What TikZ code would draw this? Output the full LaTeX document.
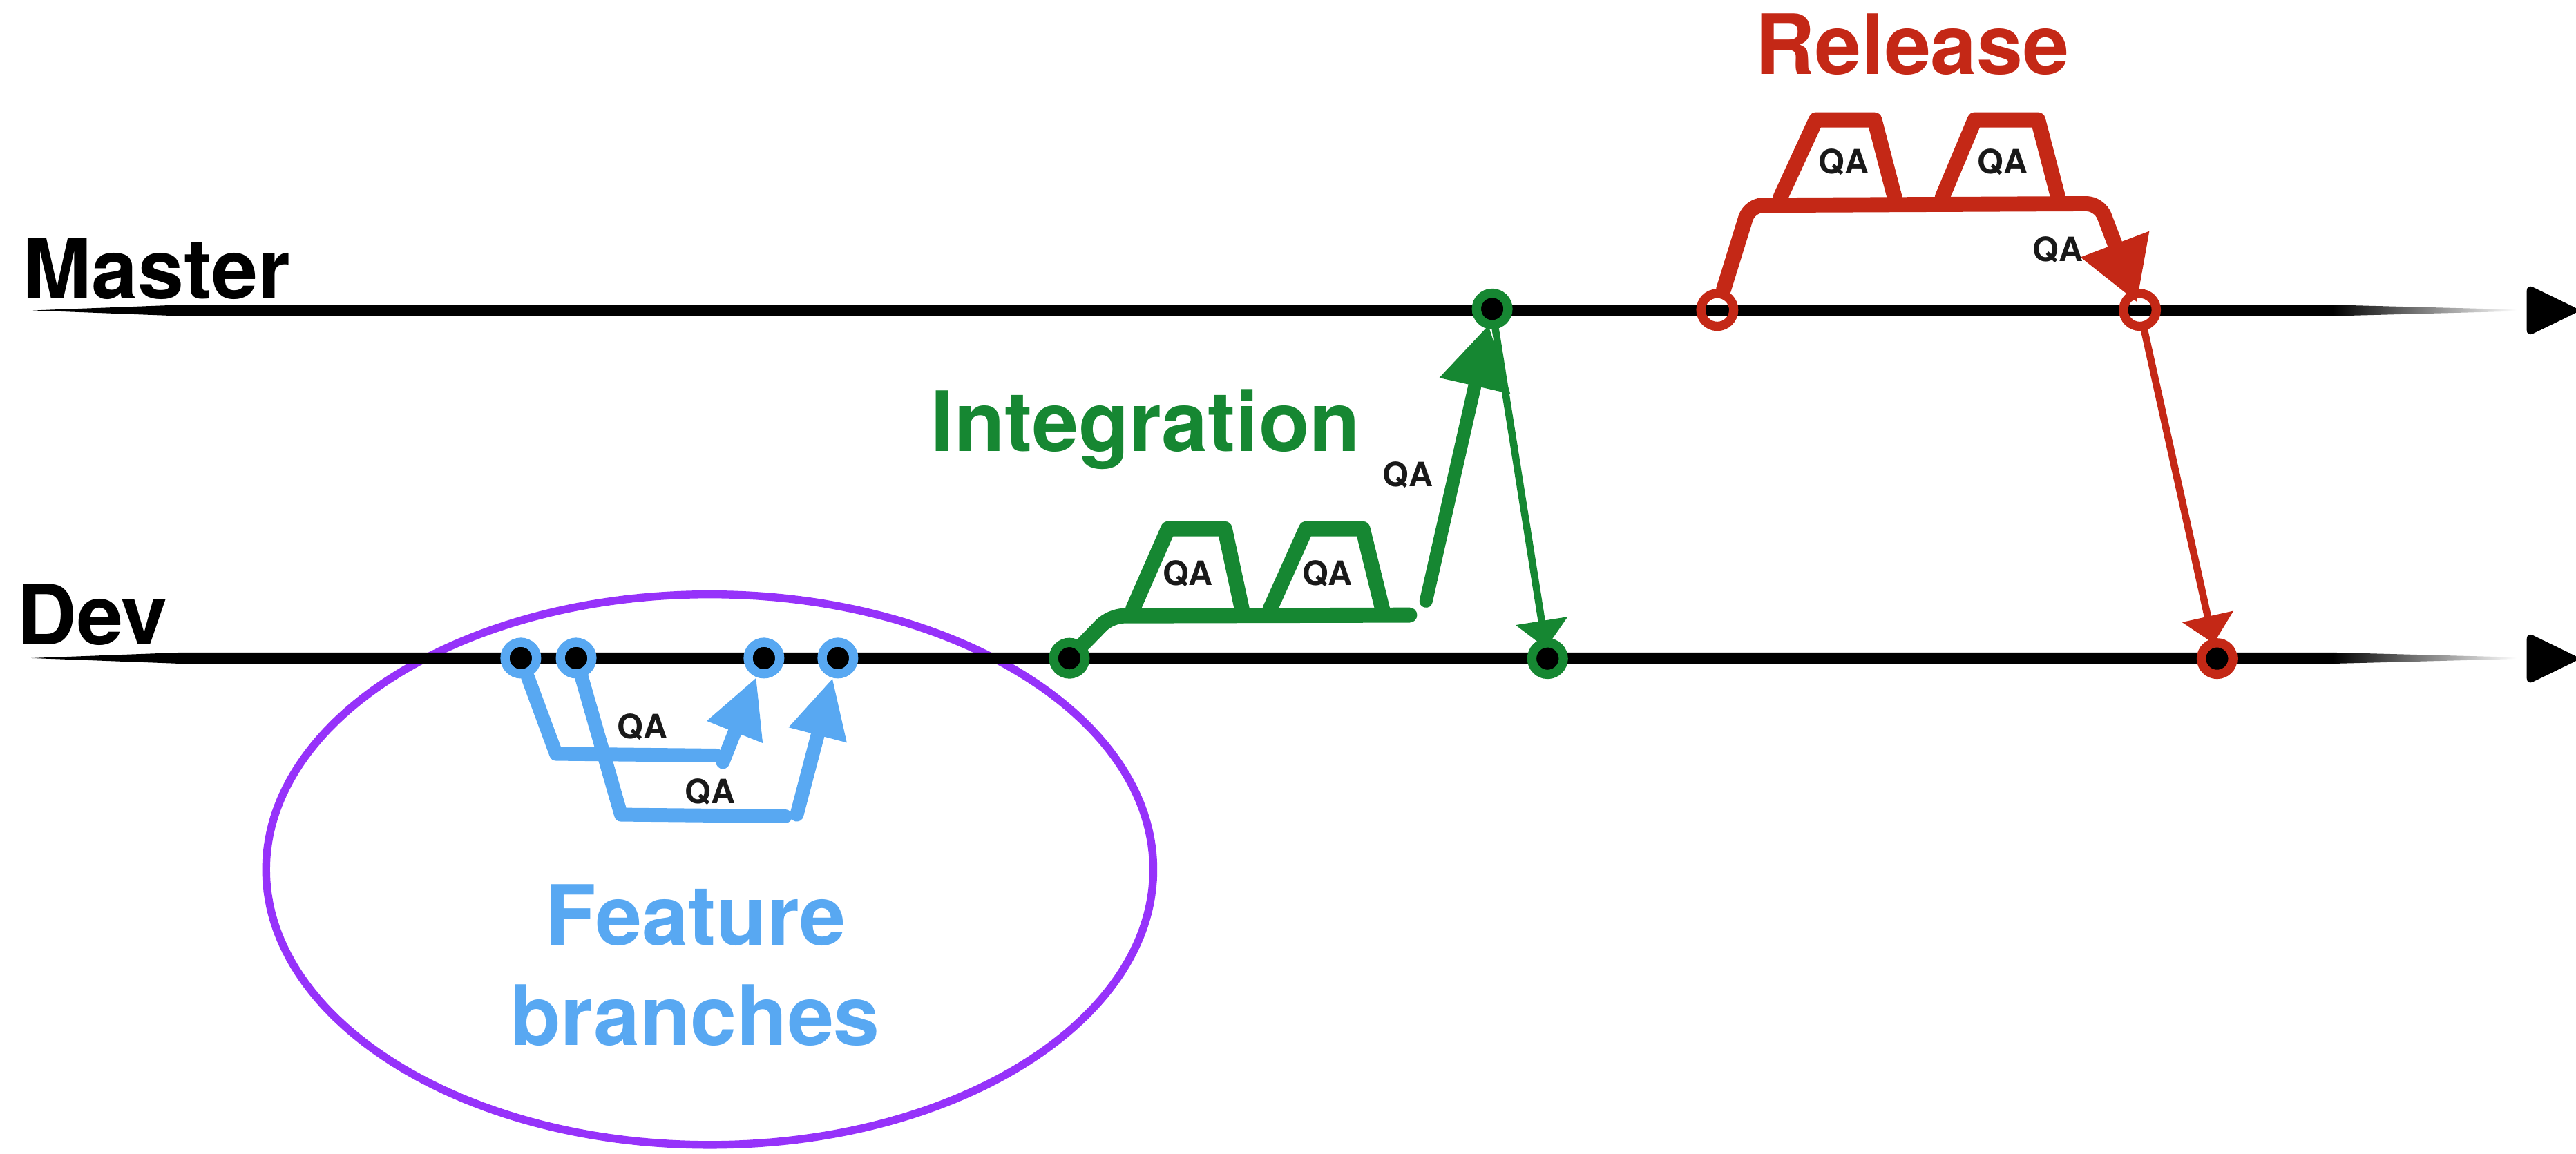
\documentclass[tikz,border=0pt]{standalone}
\usepackage{fontspec}
\setmainfont{TeX Gyre Heros}
\usetikzlibrary{arrows.meta}
\definecolor{blueF}{RGB}{88,168,242}
\definecolor{greenI}{RGB}{22,135,50}
\definecolor{redR}{RGB}{196,40,22}
\definecolor{purpleE}{RGB}{150,50,250}
\definecolor{qaText}{RGB}{25,25,25}
\begin{document}
\begin{tikzpicture}[x=0.25mm,y=-0.25mm,
  bigtext/.style={font=\fontsize{36}{43}\selectfont\bfseries, inner sep=0, anchor=base},
  qa/.style={font=\fontsize{14.5}{17}\selectfont\bfseries, text=qaText, inner sep=0},
  commit/.style={circle, draw=#1, line width=1.4mm, minimum size=4.8mm, inner sep=0, fill=black},
  commito/.style={circle, draw=#1, line width=1.4mm, minimum size=5mm, inner sep=0},
  fatline/.style={draw=#1, line width=2.3mm, line cap=round, line join=round},
  thinline/.style={draw=#1, line width=1.1mm, line cap=round},
  bluehead/.style={-{Triangle[length=9mm, width=8.5mm]}},
  bighead/.style={-{Triangle[length=9.5mm, width=10.5mm]}},
  smallhead/.style={-{Triangle[length=4.2mm, width=7.75mm]}},
]
\useasboundingbox (0,0) rectangle (1568,702.6);

% feature-branch ellipse
\draw[purpleE, line width=1.2mm] (432,529.5) ellipse [x radius=67.5mm, y radius=41.9mm];

% timelines
\fill[black] (20,189) -- (110,185.6) -- (1420,185.6) -- (1420,192.4) -- (110,192.4) -- cycle;
\shade[left color=black, right color=white] (1420,185.6) -- (1532,188.5) -- (1532,189.5) -- (1420,192.4) -- cycle;
\fill[black, rounded corners=1mm] (1538,173) -- (1571,189) -- (1538,205) -- cycle;
\fill[black] (19,400.7) -- (110,397.3) -- (1420,397.3) -- (1420,404.1) -- (110,404.1) -- cycle;
\shade[left color=black, right color=white] (1420,397.3) -- (1532,400.2) -- (1532,401.2) -- (1420,404.1) -- cycle;
\fill[black, rounded corners=1mm] (1538,385) -- (1571,401) -- (1538,417) -- cycle;

% labels
\node[bigtext, anchor=base west] (mlab) at (13.4,181.7) {Master};
\node[bigtext, anchor=base west] (dlab) at (9.9,392.5) {Dev};
\node[bigtext, text=greenI] (intlab) at (697.4,275) {Integration};
\node[bigtext, text=redR] (rellab) at (1164,45) {Release};
\node[bigtext, text=blueF] (fblab1) at (423.5,575.3) {Feature};
\node[bigtext, text=blueF] (fblab2) at (423,636.5) {branches};

% commits
\node[commit=blueF] (f1) at (317,400.7) {};
\node[commit=blueF] (f2) at (350.7,400.7) {};
\node[commit=blueF] (f3) at (465,400.7) {};
\node[commit=blueF] (f4) at (510,400.7) {};
\node[commit=greenI] (g1) at (650.9,400.8) {};
\node[commit=greenI] (g2) at (908.3,188.1) {};
\node[commit=greenI] (g3) at (942,401) {};
\node[commito=redR] (r1) at (1045.3,188.7) {};
\node[commito=redR] (r2) at (1302.5,188.7) {};
\node[commit=redR] (r3) at (1349.5,401) {};

% feature branches
\coordinate (b1a) at (338.5,459);
\coordinate (b1b) at (436,460);
\coordinate (b1c) at (440,464);
\coordinate (b2a) at (378,496);
\coordinate (b2b) at (478,497);
\coordinate (b2c) at (485,496);
\draw[fatline=blueF, line width=2.1mm] (f1) -- (b1a) -- (b1b);
\draw[fatline=blueF, line width=2.1mm, bluehead] (b1c) -- (f3);
\draw[fatline=blueF, line width=2.1mm] (f2) -- (b2a) -- (b2b);
\draw[fatline=blueF, line width=2.1mm, bluehead] (b2c) -- (f4);
\node[qa] (qaf1) at (391,442.5) {QA};
\node[qa] (qaf2) at (432.3,482) {QA};

% integration
\coordinate (ga) at (676,375);
\coordinate (gb) at (858,374.5);
\coordinate (gs) at (868,366);
\draw[fatline=greenI, rounded corners=2mm] (g1) -- (ga) -- (gb);
\draw[fatline=greenI] (689.5,371) -- (711,322) -- (745.5,322) -- (756,371);
\draw[fatline=greenI] (773,371) -- (795,322) -- (829.5,322) -- (841.5,371);
\draw[fatline=greenI, line width=2mm, bighead, shorten >=-0.6mm] (gs) -- (g2);
\draw[thinline=greenI, smallhead, shorten >=-1.5mm] (g2) -- (g3);
\node[qa] (qag1) at (723,349.4) {QA};
\node[qa] (qag2) at (808,349.4) {QA};
\node[qa] (qag3) at (857,289) {QA};

% release
\coordinate (ra) at (1065,125);
\coordinate (rb) at (1278,124);
\draw[fatline=redR, rounded corners=2mm, bighead, shorten >=-2mm] (r1) -- (ra) -- (rb) -- (r2);
\draw[fatline=redR] (1083.8,120) -- (1105.4,73) -- (1141,73) -- (1153.2,120);
\draw[fatline=redR] (1182.3,120) -- (1202,73) -- (1240.5,73) -- (1252.7,120);
\draw[thinline=redR, smallhead, shorten >=-0.75mm] (r2) -- (r3);
\node[qa] (qar1) at (1122.3,98.6) {QA};
\node[qa] (qar2) at (1219,98.6) {QA};
\node[qa] (qar3) at (1252.7,152.1) {QA};
\end{tikzpicture}
\end{document}
